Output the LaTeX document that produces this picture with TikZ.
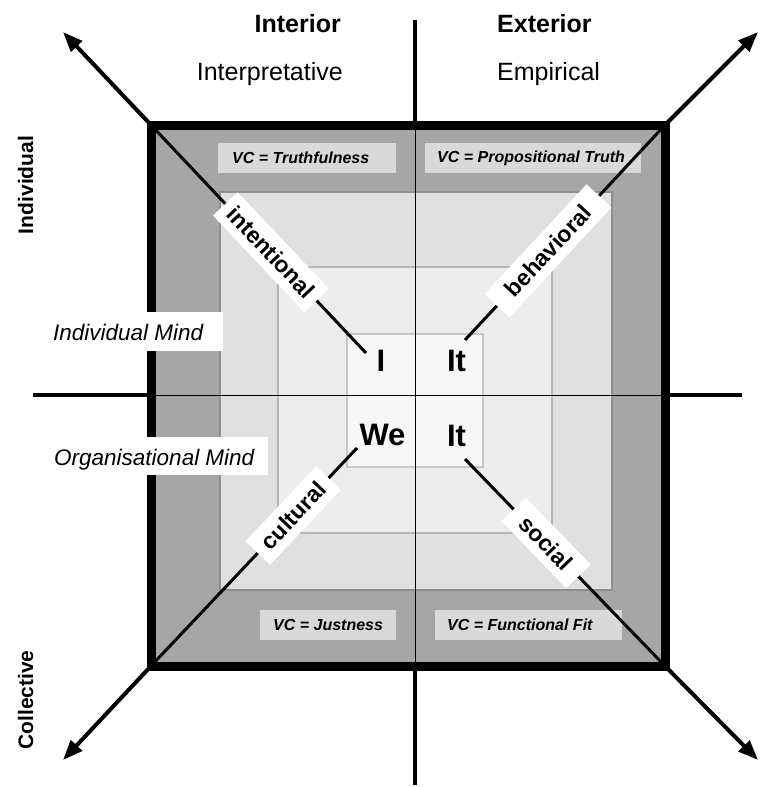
\documentclass[tikz,border=0pt]{standalone}
\usepackage{fontspec}
\setmainfont{Liberation Sans}
\usetikzlibrary{arrows.meta}
\definecolor{bandgray}{HTML}{A6A6A6}
\definecolor{filltwo}{HTML}{E0E0E0}
\definecolor{filltri}{HTML}{ECECEC}
\definecolor{fillfour}{HTML}{F7F7F7}
\definecolor{edgetwo}{HTML}{8E8E8E}
\definecolor{edgetri}{HTML}{B4B4B4}
\definecolor{edgefour}{HTML}{C6C6C6}
\definecolor{vcgray}{HTML}{D9D9D9}
\newcommand\myfs[1]{\fontsize{#1}{#1}\selectfont}
\begin{document}
\begin{tikzpicture}[x=1pt,y=-1pt,
  diaglbl/.style={fill=white, font=\myfs{23}\bfseries, inner sep=0pt, minimum height=34pt, sloped},
  vcbox/.style={fill=vcgray, inner xsep=14pt, inner ysep=0pt, minimum height=30pt, anchor=west,
    font=\myfs{16}\bfseries\itshape},
  quad/.style={font=\myfs{31}\bfseries, anchor=base, inner sep=0pt},
  head/.style={font=\myfs{25}\bfseries, inner sep=0pt},
  sub/.style={font=\myfs{25}, inner sep=0pt},
  side/.style={font=\myfs{21}\bfseries, inner sep=0pt, rotate=90, anchor=base},
  mind/.style={font=\myfs{22.5}\itshape, inner sep=0pt, anchor=base west},
  thinax/.style={line width=0.8pt},
  thickax/.style={line width=4.5pt},
  diagin/.style={line width=3pt},
  diagout/.style={line width=4pt, -{Triangle[length=20pt,width=15pt]}}]
\useasboundingbox (0,0) rectangle (774,787);
% corners and ends
\coordinate (cTL) at (151,125);
\coordinate (cTR) at (665,125);
\coordinate (cBL) at (151,666);
\coordinate (cBR) at (665,666);
\coordinate (tipTL) at (63,32);
\coordinate (tipTR) at (758,32);
\coordinate (tipBL) at (63,760);
\coordinate (tipBR) at (758,760);
\coordinate (iEnd) at (366,353);
\coordinate (bEnd) at (465,340);
\coordinate (wEnd) at (357,448);
\coordinate (sEnd) at (465,459);
\coordinate (axT) at (415,20);
\coordinate (axB) at (415,785);
\coordinate (axL) at (33,395);
\coordinate (axR) at (742,395);
\coordinate (inT) at (415,125);
\coordinate (inB) at (415,666);
\coordinate (inL) at (151,395);
\coordinate (inR) at (665,395);
% nested squares
\fill[bandgray] (cTL) rectangle (cBR);
\draw[draw=edgetwo, line width=2.5pt, fill=filltwo] (220,192) rectangle (612,590);
\draw[draw=edgetri, line width=2pt, fill=filltri] (278,267) rectangle (552,533);
\draw[draw=edgefour, line width=1.5pt, fill=fillfour] (347,334) rectangle (483,467);
% validity claim boxes
\node[vcbox] (vcT) at (218,158) {\makebox[150pt][l]{VC = Truthfulness}};
\node[vcbox, inner xsep=12pt] (vcP) at (425,158) {\makebox[192pt][l]{VC = Propositional Truth}};
\node[vcbox, inner xsep=13pt] (vcJ) at (260,625) {\makebox[110pt][l]{VC = Justness}};
\node[vcbox, inner xsep=12pt] (vcF) at (435,625) {\makebox[163pt][l]{VC = Functional Fit}};
% thin axes inside
\draw[thinax] (inT) -- (inB);
\draw[thinax] (inL) -- (inR);
% inner diagonals
\draw[diagin] (iEnd) -- (cTL);
\draw[diagin] (bEnd) -- (cTR);
\draw[diagin] (wEnd) -- (cBL);
\draw[diagin] (sEnd) -- (cBR);
% outer border
\draw[line width=9pt] (cTL) rectangle (cBR);
% thick axes outside
\draw[thickax] (axT) -- (inT);
\draw[thickax] (inB) -- (axB);
\draw[thickax] (axL) -- (inL);
\draw[thickax] (inR) -- (axR);
% arrows
\draw[diagout] (cTL) -- (tipTL);
\draw[diagout] (cTR) -- (tipTR);
\draw[diagout] (cBL) -- (tipBL);
\draw[diagout] (cBR) -- (tipBR);
% diagonal labels
\path (cTL) -- (iEnd) node[diaglbl, pos=0.558, minimum width=133pt] (lInt) {intentional};
\path (cTR) -- (bEnd) node[diaglbl, pos=0.585, minimum width=150pt] (lBeh) {behavioral};
\path (cBL) -- (wEnd) node[diaglbl, pos=0.69, minimum width=103pt] (lCul) {cultural};
\path (cBR) -- (sEnd) node[diaglbl, pos=0.595, minimum width=93pt] (lSoc) {social};
% quadrant words
\node[quad] (qI) at (381,371) {I};
\node[quad] (qIt) at (456.5,371) {It};
\node[quad] (qWe) at (382.5,445) {We};
\node[quad] (qIts) at (456.5,446) {It};
% headers
\node[head, anchor=base east] (hInt) at (341,32) {Interior};
\node[sub, anchor=base east] (hInp) at (343,80) {Interpretative};
\node[head, anchor=base west] (hExt) at (497,32) {Exterior};
\node[sub, anchor=base west] (hEmp) at (497,80) {Empirical};
% side labels
\node[side] (sInd) at (33,185) {Individual};
\node[side] (sCol) at (33,700) {Collective};
% mind labels
\fill[white] (33,312) rectangle (223,351);
\node[mind] (mInd) at (53,340) {Individual Mind};
\fill[white] (33,437) rectangle (268,475);
\node[mind] (mOrg) at (54,465) {Organisational Mind};
\end{tikzpicture}
\end{document}
